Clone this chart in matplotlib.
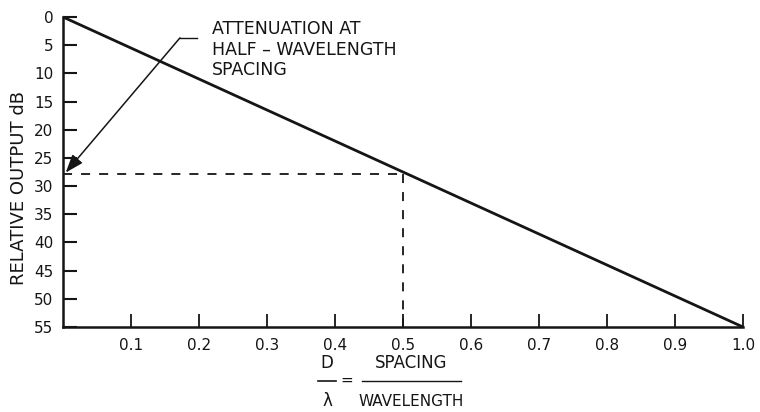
import numpy as np
import matplotlib
matplotlib.use("Agg")
import matplotlib.pyplot as plt
from matplotlib.lines import Line2D

# Data
spacing = [0.0, 1.0]          # D / lambda
output_db = [0.0, 55.0]       # relative output, dB
half_wave = 0.5
half_wave_db = 27.8
x_ticks = [0.1, 0.2, 0.3, 0.4, 0.5, 0.6, 0.7, 0.8, 0.9, 1.0]
x_labels = ["0.1", "0.2", "0.3", "0.4", "0.5", "0.6", "0.7", "0.8", "0.9", "1.0"]
y_ticks = [0, 5, 10, 15, 20, 25, 30, 35, 40, 45, 50, 55]
note = "ATTENUATION AT\nHALF \u2013 WAVELENGTH\nSPACING"

ink = "#151515"
plt.rcParams['font.family'] = ['DejaVu Sans']

fig = plt.figure(figsize=(7.6, 4.12), dpi=100)
ax = fig.add_axes([0.0829, 0.2063, 0.8947, 0.7524])

ax.plot(spacing, output_db, color=ink, lw=2.0, solid_capstyle='butt', clip_on=False)
# dashed guide lines at half-wavelength spacing
ax.plot([0, half_wave], [half_wave_db, half_wave_db], color=ink, lw=1.3, ls=(0, (5, 5)))
ax.plot([half_wave, half_wave], [half_wave_db, 55], color=ink, lw=1.3, ls=(0, (5, 5)))

ax.set_xlim(0, 1.0)
ax.set_ylim(55, 0)
ax.set_xticks(x_ticks)
ax.set_xticklabels(x_labels)
ax.set_yticks(y_ticks)
for s in ['top', 'right']:
    ax.spines[s].set_visible(False)
for s in ['left', 'bottom']:
    ax.spines[s].set_linewidth(1.8)
    ax.spines[s].set_color(ink)
ax.tick_params(axis='y', direction='in', length=10, width=1.5, colors=ink,
               labelsize=11, pad=7)
ax.tick_params(axis='x', direction='in', length=9.5, width=1.3, colors=ink,
               labelsize=11, pad=8)
for lab in ax.get_xticklabels() + ax.get_yticklabels():
    lab.set_color(ink)

ax.set_ylabel("RELATIVE OUTPUT dB", fontsize=13, color=ink)
ax.yaxis.set_label_coords(-0.052, 0.45)

# annotation with leader
ax.plot([0.172, 0.197], [3.7, 3.7], color=ink, lw=1.0)
ax.annotate("", xy=(0.004, 27.6), xytext=(0.172, 3.7),
            arrowprops=dict(arrowstyle='-|>,head_length=1.1,head_width=0.4',
                            color=ink, lw=1.1, shrinkA=0, shrinkB=0))
ax.text(0.219, 0.5, note, fontsize=12.5, color=ink, va='top', ha='left',
        linespacing=1.2)

# x-axis label as two stacked fractions
fig.text(327 / 760, 1 - 363 / 412, "D", fontsize=12, color=ink, ha='center', va='center')
fig.text(327 / 760, 1 - 401 / 412, "\u03bb", fontsize=12, color=ink, ha='center', va='center')
fig.text(347 / 760, 1 - 380 / 412, "=", fontsize=11, color=ink, ha='center', va='center')
fig.text(411 / 760, 1 - 363 / 412, "SPACING", fontsize=12, color=ink, ha='center', va='center')
fig.text(411 / 760, 1 - 401 / 412, "WAVELENGTH", fontsize=11, color=ink, ha='center', va='center')
fig.add_artist(Line2D([318 / 760, 336 / 760], [1 - 381 / 412] * 2, color=ink, lw=1.2))
fig.add_artist(Line2D([362 / 760, 461 / 760], [1 - 381 / 412] * 2, color=ink, lw=1.0))

fig.savefig("out.png", dpi=100)
